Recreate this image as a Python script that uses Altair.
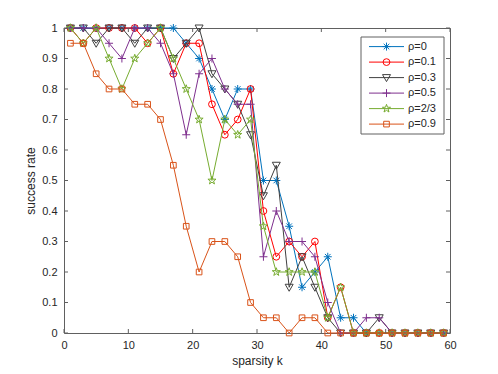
import math
import altair as alt
import pandas as pd

# ---------------- data ----------------
sparsity = [1, 3, 5, 7, 9, 11, 13, 15, 17, 19, 21, 23, 25, 27, 29,
            31, 33, 35, 37, 39, 41, 43, 45, 47, 49, 51, 53, 55, 57, 59]

rho_0 = [1, 1, 1, 1, 1, 1, 1, 1, 1, 0.95, 0.9, 0.8, 0.7, 0.8, 0.8,
         0.5, 0.5, 0.35, 0.15, 0.2, 0.25, 0.05, 0.05, 0, 0, 0, 0, 0, 0, 0]
rho_01 = [1, 0.95, 1, 1, 1, 1, 0.95, 1, 0.85, 0.95, 0.95, 0.75, 0.65, 0.7, 0.8,
          0.4, 0.25, 0.3, 0.25, 0.3, 0.05, 0.15, 0, 0, 0, 0, 0, 0, 0, 0]
rho_03 = [1, 1, 0.95, 1, 1, 0.95, 1, 1, 0.9, 0.95, 1, 0.85, 0.8, 0.75, 0.65,
          0.45, 0.55, 0.15, 0.25, 0.15, 0.05, 0, 0, 0, 0.05, 0, 0, 0, 0, 0]
rho_05 = [1, 1, 1, 0.95, 0.9, 1, 1, 0.95, 0.85, 0.65, 0.85, 0.9, 0.8, 0.75, 0.75,
          0.25, 0.4, 0.3, 0.3, 0.25, 0.1, 0, 0, 0.05, 0.05, 0, 0, 0, 0, 0]
rho_23 = [1, 0.95, 1, 0.9, 0.8, 0.9, 0.95, 1, 0.9, 0.8, 0.7, 0.5, 0.7, 0.65, 0.7,
          0.35, 0.2, 0.2, 0.2, 0.2, 0.05, 0.15, 0, 0, 0, 0, 0, 0, 0, 0]
rho_09 = [0.95, 0.95, 0.85, 0.8, 0.8, 0.75, 0.75, 0.7, 0.55, 0.35, 0.2, 0.3, 0.3, 0.25, 0.1,
          0.05, 0.05, 0, 0.05, 0.05, 0, 0, 0, 0, 0, 0, 0, 0, 0, 0]

series_labels = ["ρ=0", "ρ=0.1", "ρ=0.3", "ρ=0.5", "ρ=2/3", "ρ=0.9"]
series_values = [rho_0, rho_01, rho_03, rho_05, rho_23, rho_09]

x_ticks = [0, 10, 20, 30, 40, 50, 60]
y_ticks = [0, 0.1, 0.2, 0.3, 0.4, 0.5, 0.6, 0.7, 0.8, 0.9, 1]

# ---------------- style ----------------
colors = ["#0072BD", "#FF0000", "#404040", "#7E2F8E", "#77AC30", "#D95319"]

star_pts = []
for j in range(10):
    r = 1.0 if j % 2 == 0 else 0.40
    a = -math.pi / 2 + j * math.pi / 5
    star_pts.append((r * math.cos(a), r * math.sin(a)))
STAR = "M " + " L ".join(f"{px:.3f} {py:.3f}" for px, py in star_pts) + " Z"
ASTERISK = "M -1 0 L 1 0 M 0 -1 L 0 1 M -0.7 -0.7 L 0.7 0.7 M -0.7 0.7 L 0.7 -0.7"
PLUS = "M -1 0 L 1 0 M 0 -1 L 0 1"
TRI_DOWN = "M -1 -0.75 L 1 -0.75 L 0 1 Z"

shapes = [ASTERISK, "circle", TRI_DOWN, PLUS, STAR, "square"]
sizes = [64, 46, 64, 64, 72, 32]

FONT = "Liberation Sans"
TXT = "#262626"
AXC = "#606060"
W, H = 386, 305

xs = alt.Scale(domain=[0, 60], nice=False, zero=False)
ys = alt.Scale(domain=[0, 1], nice=False, zero=False)

x_axis = alt.Axis(values=x_ticks, title="sparsity k", ticks=False, domain=False, grid=False,
                  labelPadding=6, titlePadding=5, labelFont=FONT, titleFont=FONT,
                  labelFontSize=11, titleFontSize=12, labelColor=TXT, titleColor=TXT,
                  titleFontWeight="normal", labelFlush=False)
y_axis = alt.Axis(values=y_ticks, title="success rate", ticks=False, domain=False, grid=False,
                  format=".1~f", labelPadding=7, titlePadding=4, labelFont=FONT, titleFont=FONT,
                  labelFontSize=11, titleFontSize=12, labelColor=TXT, titleColor=TXT,
                  titleFontWeight="normal", labelFlush=False)

layers = []

# data series
for lab, vals, col, shp, sz in zip(series_labels, series_values, colors, shapes, sizes):
    df = pd.DataFrame({"k": sparsity, "rate": vals})
    enc = dict(x=alt.X("k:Q", scale=xs, axis=x_axis), y=alt.Y("rate:Q", scale=ys, axis=y_axis))
    layers.append(alt.Chart(df).mark_line(color=col, strokeWidth=1).encode(**enc))
    layers.append(alt.Chart(df).mark_point(shape=shp, size=sz, filled=False, color=col,
                                           strokeWidth=1, opacity=1).encode(**enc))

# tick marks pointing inward
yt = pd.DataFrame({"yv": y_ticks})
xt = pd.DataFrame({"xv": x_ticks})
for xa, xb in [(0, 4), (W - 4, W)]:
    layers.append(alt.Chart(yt).mark_rule(color=AXC, strokeWidth=1).encode(
        y=alt.Y("yv:Q", scale=ys, axis=y_axis), x=alt.value(xa), x2=alt.value(xb)))
for ya, yb in [(H - 4, H), (0, 4)]:
    layers.append(alt.Chart(xt).mark_rule(color=AXC, strokeWidth=1).encode(
        x=alt.X("xv:Q", scale=xs, axis=x_axis), y=alt.value(ya), y2=alt.value(yb)))

# legend
one = pd.DataFrame({"d": [0]})
layers.append(alt.Chart(one).mark_rect(fill="white", stroke=AXC, strokeWidth=1).encode(
    x=alt.value(297), x2=alt.value(380), y=alt.value(9), y2=alt.value(106)))
row_y = [18.6, 34.1, 49.6, 65.1, 80.6, 96.1]
for lab, col, shp, sz, yy in zip(series_labels, colors, shapes, sizes, row_y):
    layers.append(alt.Chart(one).mark_rule(color=col, strokeWidth=1).encode(
        x=alt.value(305), x2=alt.value(340), y=alt.value(yy)))
    layers.append(alt.Chart(one).mark_point(shape=shp, size=sz, filled=False, color=col,
                                            strokeWidth=1, opacity=1).encode(
        x=alt.value(322.5), y=alt.value(yy)))
    ldf = pd.DataFrame({"t": [lab]})
    layers.append(alt.Chart(ldf).mark_text(align="left", baseline="middle", font=FONT,
                                           fontSize=11, color=TXT).encode(
        x=alt.value(344), y=alt.value(yy), text="t:N"))

chart = alt.layer(*layers).properties(
    width=W, height=H,
    autosize=alt.AutoSizeParams(type="none"),
    padding={"left": 56, "top": 20, "right": 40, "bottom": 38},
    background="white",
).configure_view(stroke=AXC, strokeWidth=1)

chart.save("out.html", embed_options={"renderer": "svg", "actions": False})
